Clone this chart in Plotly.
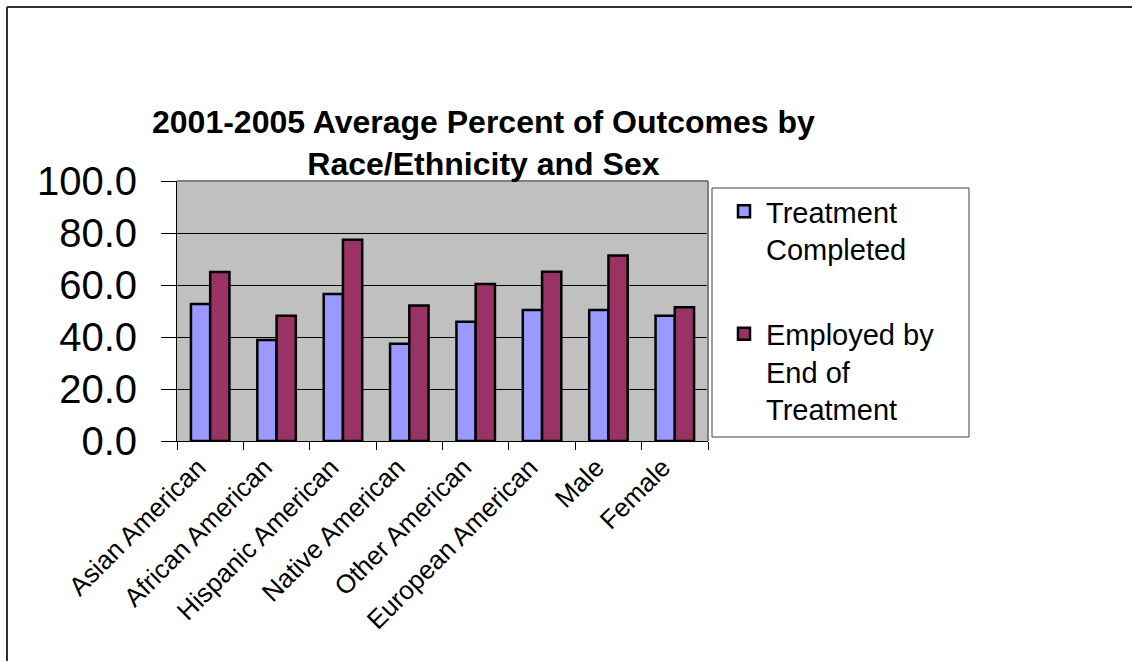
import plotly.graph_objects as go

categories = ["Asian American", "African American", "Hispanic American", "Native American",
              "Other American", "European American", "Male", "Female"]
treatment_completed = [52.7, 38.8, 56.5, 37.4, 45.9, 50.4, 50.4, 48.2]
employed_end = [65.0, 48.2, 77.4, 52.1, 60.4, 65.1, 71.3, 51.4]
series_names = ["Treatment<br>Completed", "Employed by<br>End of<br>Treatment"]
y_ticks = [0, 20, 40, 60, 80, 100]
title_text = "2001-2005 Average Percent of Outcomes by<br>Race/Ethnicity and Sex"

W, H = 1132, 661
L, R, T, B = 177, 708, 181, 441

def px(x):
    return (x - L) / (R - L)

def py(y):
    return (B - y) / (B - T)

FONT = "Liberation Sans, Arial, sans-serif"

fig = go.Figure()
fig.add_trace(go.Bar(x=categories, y=treatment_completed, name=series_names[0],
                     legendgroup="a",
                     marker=dict(color="#9999FF", line=dict(color="black", width=2.5))))
fig.add_trace(go.Bar(x=categories, y=employed_end, name=series_names[1],
                     legendgroup="b",
                     marker=dict(color="#993366", line=dict(color="black", width=2.5))))

fig.update_layout(
    width=W, height=H,
    margin=dict(l=L, r=W - R, t=T, b=H - B, pad=0),
    paper_bgcolor="white",
    plot_bgcolor="#C0C0C0",
    barmode="group",
    bargap=0.42,
    bargroupgap=0,
    font=dict(family=FONT, color="black"),
    showlegend=True,
    legend=dict(
        x=px(722), y=py(186), xanchor="left", yanchor="top",
        bgcolor="rgba(0,0,0,0)", borderwidth=0,
        font=dict(size=29, family=FONT, color="black"),
        valign="top", traceorder="grouped", tracegroupgap=44,
        itemwidth=34,
    ),
    annotations=[dict(
        text="<b>" + title_text + "</b>", xref="paper", yref="paper",
        x=px(483), y=py(184), xanchor="center", yanchor="bottom",
        showarrow=False, font=dict(size=32, family=FONT, color="black"),
    )],
    shapes=[
        dict(type="rect", xref="paper", yref="paper", x0=px(712), x1=px(969), y0=py(188), y1=py(437),
             fillcolor="white", line=dict(color="#404040", width=1), layer="above"),
        dict(type="line", xref="paper", yref="paper", x0=0, x1=1, y0=1, y1=1,
             line=dict(color="#808080", width=2), layer="above"),
        dict(type="line", xref="paper", yref="paper", x0=1, x1=1, y0=0, y1=1,
             line=dict(color="#808080", width=2), layer="above"),
        dict(type="line", xref="paper", yref="paper", x0=px(7), x1=px(1132), y0=py(7), y1=py(7),
             line=dict(color="#303030", width=2)),
        dict(type="line", xref="paper", yref="paper", x0=px(7), x1=px(7), y0=py(7), y1=py(661),
             line=dict(color="#303030", width=2)),
    ],
)

fig.update_xaxes(
    showline=True, linecolor="black", linewidth=1,
    ticks="outside", tickson="boundaries", ticklen=8, tickcolor="black",
    tickangle=-45, tickfont=dict(size=26, family=FONT, color="black"),
    ticklabelshift=-12,
    showgrid=False,
)
fig.update_yaxes(
    range=[0, 100], tickvals=y_ticks, tickformat=".1f",
    showline=True, linecolor="black", linewidth=1,
    ticks="outside", ticklen=15, tickcolor="black",
    tickfont=dict(size=40, family=FONT, color="black"),
    ticklabelstandoff=16,
    showgrid=True, gridcolor="black", gridwidth=1,
    zeroline=False,
)

fig.write_html("out.html")
